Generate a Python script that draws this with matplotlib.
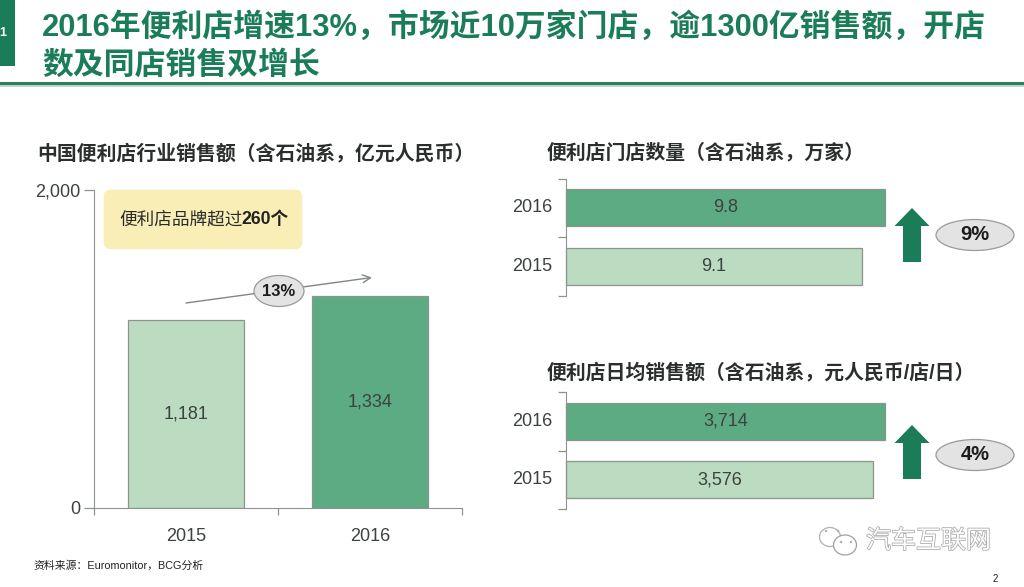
import matplotlib
matplotlib.use("Agg")
import matplotlib.pyplot as plt
from matplotlib.patches import Rectangle, FancyBboxPatch, Ellipse, Polygon
import matplotlib.patheffects as pe

FONT = ['Liberation Sans', 'Noto Sans CJK SC', 'DejaVu Sans']
plt.rcParams['font.family'] = FONT

years_v = ['2015', '2016']
sales = [1181, 1334]
sales_labels = ['1,181', '1,334']
years_h = ['2015', '2016']
stores = [9.1, 9.8]
stores_labels = ['9.1', '9.8']
daily = [3576, 3714]
daily_labels = ['3,576', '3,714']

title = ['2016年便利店增速13%，市场近10万家门店，逾1300亿销售额，开店', '数及同店销售双增长']
title_left = '中国便利店行业销售额（含石油系，亿元人民币）'
title_top = '便利店门店数量（含石油系，万家）'
title_bottom = '便利店日均销售额（含石油系，元人民币/店/日）'
source = '资料来源：Euromonitor，BCG分析'

LIGHT, DARK, DEEP = '#bbdcc0', '#5cab82', '#1b7d58'
EDGE, TXT = '#8c948e', '#3c4240'
LBL = 13
W, H = 1024, 587
fig = plt.figure(figsize=(W / 100, H / 100), dpi=100, facecolor='white')

def pax(x0, y0, x1, y1):
    return fig.add_axes([x0 / W, 1 - y1 / H, (x1 - x0) / W, (y1 - y0) / H])

# overlay in pixel coordinates
bg = fig.add_axes([0, 0, 1, 1], zorder=5)
bg.set_xlim(0, W); bg.set_ylim(H, 0); bg.axis('off'); bg.patch.set_alpha(0)

# left column chart
ax = pax(94, 190, 462, 507.5)
ax.bar(range(2), sales, width=0.635, color=[LIGHT, DARK], edgecolor=EDGE, linewidth=0.9)
for i, (v, s) in enumerate(zip(sales, sales_labels)):
    ax.text(i, v / 2, s, ha='center', va='center', fontsize=LBL, color=TXT)
ax.set_xlim(-0.5, 1.5); ax.set_ylim(0, 2000)
ax.set_yticks([0, 2000]); ax.set_yticklabels(['0', '2,000'], fontsize=LBL, color=TXT)
ax.set_xticks([-0.5, 0.5, 1.5]); ax.set_xticklabels([])
for i, y in enumerate(years_v):
    ax.text(i, -180, y, ha='center', va='center', fontsize=LBL, color=TXT)
ax.tick_params(axis='y', length=7, width=0.9, color=EDGE, pad=3)
ax.tick_params(axis='x', length=5, width=0.9, color=EDGE)
ax.spines[['top', 'right']].set_visible(False)
ax.spines[['left', 'bottom']].set_color(EDGE)

# right horizontal charts
def hbar(y0, y1, vals, labels, xmax):
    a = pax(566, y0, 885, y1)
    a.barh(range(2), vals, height=0.63, color=[LIGHT, DARK], edgecolor=EDGE, linewidth=0.9, clip_on=False)
    for i, (v, s) in enumerate(zip(vals, labels)):
        a.text(v / 2, i, s, ha='center', va='center', fontsize=LBL, color=TXT)
    a.set_xlim(0, xmax); a.set_ylim(-0.5, 1.5)
    a.set_yticks([-0.5, 0.5, 1.5]); a.set_yticklabels([])
    for i, y in enumerate(years_h):
        a.text(-0.044 * xmax, i, y, ha='right', va='center', fontsize=LBL, color=TXT)
    a.set_xticks([])
    a.tick_params(axis='y', length=6, width=0.9, color=EDGE)
    a.spines[['top', 'right', 'bottom']].set_visible(False)
    a.spines['left'].set_color(EDGE)
    a.patch.set_alpha(0)

hbar(178.5, 295.5, stores, stores_labels, 9.8)
hbar(392, 509, daily, daily_labels, 3714)

# header
bg.add_patch(Rectangle((0, 0), 15, 66, color=DEEP, lw=0))
bg.text(3, 33, '1', color='white', fontsize=9, fontweight='bold', ha='center', va='center')
bg.text(42, 27, title[0], fontsize=22.2, fontweight='bold', color=DEEP, va='center')
bg.text(42, 66, title[1], fontsize=22.2, fontweight='bold', color=DEEP, va='center')
bg.add_patch(Rectangle((0, 82), W, 3, color='#2a7f5c', lw=0))
bg.add_patch(Rectangle((0, 85), W, 2, color='#b9d8c6', lw=0))

# sub-titles
for x, y, s in [(37, 154, title_left), (547, 153, title_top), (547, 373, title_bottom)]:
    bg.text(x, y, s, fontsize=14.3, fontweight='bold', color='#2a2e2c', va='center')

# callout
bg.add_patch(FancyBboxPatch((104, 190), 198, 59, boxstyle='round,pad=0,rounding_size=7',
                            fc='#f8eeb6', ec='#f8eeb6', lw=0.5))
bg.text(119, 220, '便利店品牌超过', fontsize=12.7, color='#2a2a2a', va='center')
bg.text(241, 220, '260个', fontsize=12.7, fontweight='bold', color='#222', va='center')

# growth arrow
bg.annotate('', xy=(372, 277.5), xytext=(186, 303),
            arrowprops=dict(arrowstyle='->', color='#7f8883', lw=1, mutation_scale=14,
                            shrinkA=0, shrinkB=0))
def bubble(cx, cy, w, h, s, size):
    bg.add_patch(Ellipse((cx, cy), w, h, fc='#e3e3e3', ec='#9a9a9a', lw=0.9, zorder=6))
    bg.text(cx, cy, s, fontsize=size, fontweight='bold', color='#1c1c1c', ha='center', va='center', zorder=7)
bubble(279, 291, 50, 31, '13%', 12)
bubble(975, 235, 78, 31, '9%', 14.5)
bubble(975, 455, 78, 31, '4%', 14.5)

def up_arrow(cx, top, bottom):
    bg.add_patch(Polygon([(cx - 17.5, top + 18), (cx, top), (cx + 17.5, top + 18), (cx + 9, top + 18),
                          (cx + 9, bottom), (cx - 9, bottom), (cx - 9, top + 18)], color=DEEP, lw=0))
up_arrow(912, 208, 262)
up_arrow(912, 425, 479)

# footer
bg.text(33, 566, source, fontsize=7.8, color='#222', va='center')
bg.text(995, 579, '2', fontsize=7, color='#222', ha='center', va='center')

# watermark
bg.text(866, 541, '汽车互联网', fontsize=18, color='white', va='center',
        path_effects=[pe.withStroke(linewidth=1.1, foreground='#a8a8a8')])
bg.add_patch(Ellipse((830, 537), 21, 19, fc='white', ec='#b0b0b0', lw=0.9))
bg.add_patch(Ellipse((845, 545), 23, 20, fc='white', ec='#a0a0a0', lw=0.9))
for x, y in [(826, 531), (838, 531), (841, 542), (851, 542)]:
    bg.add_patch(Ellipse((x, y), 2.5, 2.5, fc='#b0b0b0', lw=0))

fig.savefig('out.png', dpi=100, facecolor='white')
